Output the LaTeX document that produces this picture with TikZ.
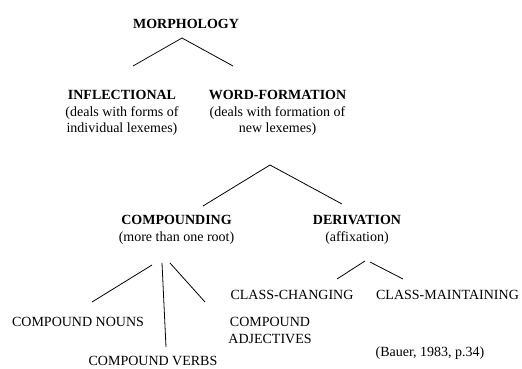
\documentclass[tikz,border=0pt]{standalone}
\usepackage{fontspec}
\setmainfont{Liberation Serif}
\newcommand*{\txtsize}{\fontsize{14}{16.5}\selectfont}

\begin{document}
\begin{tikzpicture}
[
	x=1pt,
	y=-1pt,
	head/.style={font=\txtsize\bfseries,inner sep=0pt,anchor=base},
	group/.style={font=\txtsize,align=center,inner sep=0pt,anchor=north},
	leaf/.style={font=\txtsize,inner sep=0pt,anchor=base},
	branch/.style={line width=0.8pt}
]
	\useasboundingbox (0,0) rectangle (522,369);

	% categories
	\node[head] (morph) at (186,28.5) {MORPHOLOGY};
	\node[group] (infl) at (122,90.5) {\textbf{INFLECTIONAL}\\(deals with forms of\\individual lexemes)};
	\node[group] (wordf) at (277.5,90.5) {\textbf{WORD-FORMATION}\\(deals with formation of\\new lexemes)};
	\node[group] (comp) at (176.5,215.5) {\textbf{COMPOUNDING}\\(more than one root)};
	\node[group] (deriv) at (357,215.5) {\textbf{DERIVATION}\\(affixation)};

	% leaves
	\node[leaf] (cnouns) at (78,326.5) {COMPOUND NOUNS};
	\node[leaf] (cverbs) at (153,365.5) {COMPOUND VERBS};
	\node[group] (cadj) at (270,317.5) {COMPOUND\\ADJECTIVES};
	\node[leaf] (cchang) at (292,299.5) {CLASS-CHANGING};
	\node[leaf] (cmaint) at (447.5,299.5) {CLASS-MAINTAINING};
	\node[leaf] (source) at (430,356.5) {(Bauer, 1983, p.34)};

	% branch points
	\coordinate (morph-top) at (182,38);
	\coordinate (morph-l) at (133,66);
	\coordinate (morph-r) at (233,66);
	\coordinate (wordf-top) at (270,165);
	\coordinate (wordf-l) at (203,206);
	\coordinate (wordf-r) at (342,204);
	\coordinate (comp-a) at (152,265);
	\coordinate (comp-b) at (162,263);
	\coordinate (comp-c) at (170,263);
	\coordinate (cnouns-top) at (92,302);
	\coordinate (cverbs-top) at (166,347);
	\coordinate (cadj-top) at (205,302);
	\coordinate (deriv-a) at (365,261);
	\coordinate (deriv-b) at (370,262);
	\coordinate (cchang-top) at (337,279);
	\coordinate (cmaint-top) at (403,279);

	\draw[branch] (morph-l) -- (morph-top) -- (morph-r);
	\draw[branch] (wordf-l) -- (wordf-top) -- (wordf-r);
	\draw[branch] (comp-a) -- (cnouns-top);
	\draw[branch] (comp-b) -- (cverbs-top);
	\draw[branch] (comp-c) -- (cadj-top);
	\draw[branch] (deriv-a) -- (cchang-top);
	\draw[branch] (deriv-b) -- (cmaint-top);

\end{tikzpicture}
\end{document}
